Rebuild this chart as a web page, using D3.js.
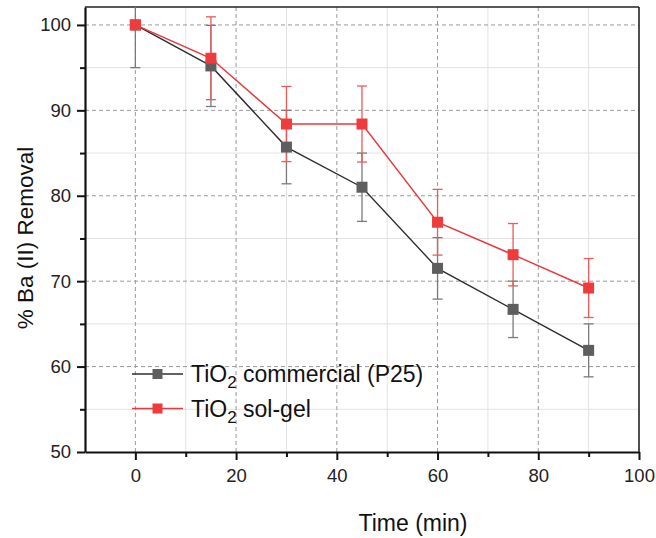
<!DOCTYPE html>
<html>
<head>
<meta charset="utf-8">
<script src="https://cdn.jsdelivr.net/npm/d3@7"></script>
<style>
  body { margin: 0; background: #fff; }
  text { font-family: "Liberation Sans", Arial, sans-serif; }
</style>
</head>
<body>
<script>
// data
const times = [0, 15, 30, 45, 60, 75, 90];
const p25Values = [100, 95.2, 85.7, 81.0, 71.5, 66.7, 61.9];
const p25Errors = [5.0, 4.75, 4.3, 4.0, 3.6, 3.3, 3.1];
const solgelValues = [100, 96.1, 88.4, 88.4, 76.9, 73.1, 69.2];
const solgelErrors = [0, 4.85, 4.4, 4.45, 3.85, 3.65, 3.45];
const xMajorTicks = [0, 20, 40, 60, 80, 100];
const xMinorTicks = [10, 30, 50, 70, 90];
const yMajorTicks = [50, 60, 70, 80, 90, 100];
const yMinorTicks = [55, 65, 75, 85, 95];

const series = [
  { name: "commercial (P25)", values: p25Values, errors: p25Errors,
    line: "#2e2e2e", marker: "#5e5e5e", err: "#7a7a7a" },
  { name: "sol-gel", values: solgelValues, errors: solgelErrors,
    line: "#e8383a", marker: "#ef3b3b", err: "#ea5a5a" }
];

const W = 656, H = 538;
const pLeft = 85, pRight = 639, pTop = 7, pBottom = 452;

const svg = d3.select("body").append("svg")
  .attr("width", W)
  .attr("height", H);

const x = d3.scaleLinear().domain([-10, 100]).range([pLeft, pRight]);
const y = d3.scaleLinear().domain([50, 102.1]).range([pBottom, pTop]);

const grid = svg.append("g");

// minor grid (light solid)
grid.selectAll(".vmin").data(xMinorTicks).enter().append("line")
  .attr("x1", d => x(d)).attr("x2", d => x(d))
  .attr("y1", pTop).attr("y2", pBottom)
  .attr("stroke", "#e2e2e2").attr("stroke-width", 1);
grid.selectAll(".hmin").data(yMinorTicks).enter().append("line")
  .attr("x1", pLeft).attr("x2", pRight)
  .attr("y1", d => y(d)).attr("y2", d => y(d))
  .attr("stroke", "#e2e2e2").attr("stroke-width", 1);

// major grid (dashed)
grid.selectAll(".vmaj").data(xMajorTicks.filter(d => d < 100)).enter().append("line")
  .attr("x1", d => x(d)).attr("x2", d => x(d))
  .attr("y1", pTop).attr("y2", pBottom)
  .attr("stroke", "#9a9a9a").attr("stroke-width", 1)
  .attr("stroke-dasharray", "4,3");
grid.selectAll(".hmaj").data(yMajorTicks.filter(d => d > 50)).enter().append("line")
  .attr("x1", pLeft).attr("x2", pRight)
  .attr("y1", d => y(d)).attr("y2", d => y(d))
  .attr("stroke", "#9a9a9a").attr("stroke-width", 1)
  .attr("stroke-dasharray", "4,3");

// frame top and right
svg.append("line").attr("x1", pLeft).attr("x2", pRight).attr("y1", pTop).attr("y2", pTop)
  .attr("stroke", "#222").attr("stroke-width", 1.6);
svg.append("line").attr("x1", pRight).attr("x2", pRight).attr("y1", pTop).attr("y2", pBottom)
  .attr("stroke", "#222").attr("stroke-width", 1.6);

// axes
svg.append("g")
  .attr("transform", `translate(0,${pBottom})`)
  .call(d3.axisBottom(x).tickValues(xMajorTicks).tickSize(8).tickSizeOuter(0).tickPadding(9));
svg.append("g")
  .attr("transform", `translate(0,${pBottom})`)
  .call(d3.axisBottom(x).tickValues(xMinorTicks).tickSize(5).tickSizeOuter(0).tickFormat(""))
  .select(".domain").remove();

svg.append("g")
  .attr("transform", `translate(${pLeft},0)`)
  .call(d3.axisLeft(y).tickValues(yMajorTicks).tickSize(8).tickSizeOuter(0).tickPadding(6));
svg.append("g")
  .attr("transform", `translate(${pLeft},0)`)
  .call(d3.axisLeft(y).tickValues(yMinorTicks).tickSize(5).tickSizeOuter(0).tickFormat(""))
  .select(".domain").remove();

svg.selectAll(".domain").attr("stroke", "#111").attr("stroke-width", 2.2);
svg.selectAll(".tick line").attr("stroke", "#111").attr("stroke-width", 2);
svg.selectAll(".tick text").attr("font-size", 18.5).attr("fill", "#222")
  .attr("font-family", "Liberation Sans, Arial, sans-serif");

// clip for error bars reaching above the frame
svg.append("clipPath").attr("id", "plotclip")
  .append("rect").attr("x", pLeft).attr("y", pTop).attr("width", pRight - pLeft).attr("height", pBottom - pTop);

const plot = svg.append("g").attr("clip-path", "url(#plotclip)");
const capW = 5;

series.forEach(s => {
  const pts = times.map((t, i) => ({ t, v: s.values[i], e: s.errors[i] }));
  const eb = plot.append("g");
  pts.filter(p => p.e > 0).forEach(p => {
    eb.append("line")
      .attr("x1", x(p.t)).attr("x2", x(p.t))
      .attr("y1", y(p.v - p.e)).attr("y2", y(p.v + p.e))
      .attr("stroke", s.err).attr("stroke-width", 1.3);
    [p.v - p.e, p.v + p.e].forEach(v => {
      eb.append("line")
        .attr("x1", x(p.t) - capW).attr("x2", x(p.t) + capW)
        .attr("y1", y(v)).attr("y2", y(v))
        .attr("stroke", s.err).attr("stroke-width", 1.3);
    });
  });
});

series.forEach(s => {
  const pts = times.map((t, i) => ({ t, v: s.values[i] }));
  plot.append("path")
    .datum(pts)
    .attr("fill", "none")
    .attr("stroke", s.line)
    .attr("stroke-width", 1.4)
    .attr("d", d3.line().x(d => x(d.t)).y(d => y(d.v)));
  plot.selectAll(null).data(pts).enter().append("rect")
    .attr("x", d => x(d.t) - 5.5).attr("y", d => y(d.v) - 5.5)
    .attr("width", 11).attr("height", 11)
    .attr("fill", s.marker);
});

// legend
const legend = svg.append("g");
series.forEach((s, i) => {
  const ly = 374 + i * 34.5;
  legend.append("line").attr("x1", 132).attr("x2", 183).attr("y1", ly).attr("y2", ly)
    .attr("stroke", s.line).attr("stroke-width", 1.4);
  legend.append("rect").attr("x", 152.5).attr("y", ly - 5).attr("width", 10).attr("height", 10)
    .attr("fill", s.marker);
  const t = legend.append("text").attr("x", 191).attr("y", ly + 8)
    .attr("font-size", 23).attr("fill", "#111");
  t.append("tspan").text("TiO");
  t.append("tspan").text("2").attr("font-size", 17).attr("dy", 6);
  t.append("tspan").text(" " + s.name).attr("dy", -6);
});

// axis titles
svg.append("text")
  .attr("transform", `translate(33,238) rotate(-90)`)
  .attr("text-anchor", "middle")
  .attr("font-size", 22.5).attr("fill", "#111")
  .text("% Ba (II) Removal");
svg.append("text")
  .attr("x", 413).attr("y", 531)
  .attr("text-anchor", "middle")
  .attr("font-size", 23).attr("fill", "#111")
  .text("Time (min)");
</script>
</body>
</html>
